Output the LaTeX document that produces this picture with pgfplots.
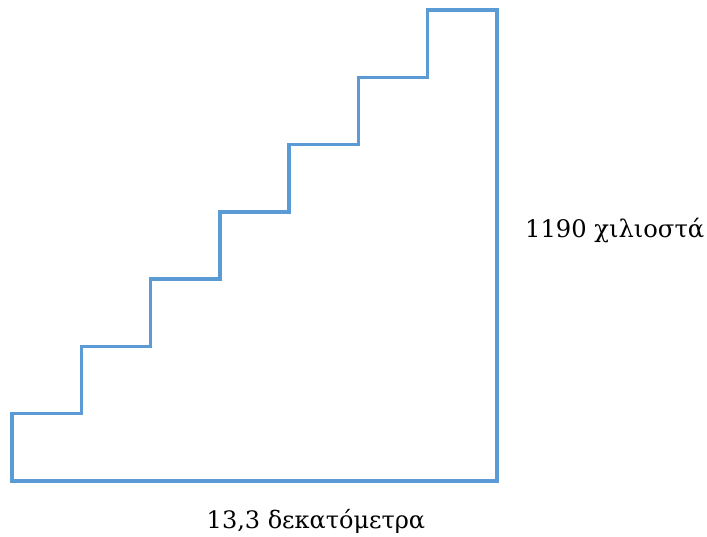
\documentclass[border=0pt]{standalone}
\usepackage{pgfplots}
\pgfplotsset{compat=1.18}
\usepackage{fontspec}
\setmainfont{DejaVu Serif}
\definecolor{stairblue}{HTML}{5B9BD5}

\begin{document}
\begin{tikzpicture}
\useasboundingbox (-12bp,-56bp) rectangle (695bp,481bp);
\begin{axis}[
  scale only axis, width=485bp, height=471bp,
  xmin=0, xmax=7, ymin=0, ymax=7,
  axis lines=none, xtick=\empty, ytick=\empty,
  clip=false, anchor=origin, at={(0,0)}]
% outline of the staircase, one unit per step
\addplot[color=stairblue, line width=3.4bp, line join=miter, mark=none] coordinates {
  (0,0) (0,1) (1,1) (1,2) (2,2) (2,3) (3,3) (3,4) (4,4) (4,5)
  (5,5) (5,6) (6,6) (6,7) (7,7) (7,0) (0,0) (0,1)
};
\end{axis}
\node[anchor=base west, font=\fontsize{24.2bp}{29bp}\selectfont, inner sep=0pt] at (513bp,243bp) {1190 χιλιοστά};
\node[anchor=base, font=\fontsize{24bp}{29bp}\selectfont, inner sep=0pt] at (304bp,-47bp) {13,3 δεκατόμετρα};
\end{tikzpicture}
\end{document}
